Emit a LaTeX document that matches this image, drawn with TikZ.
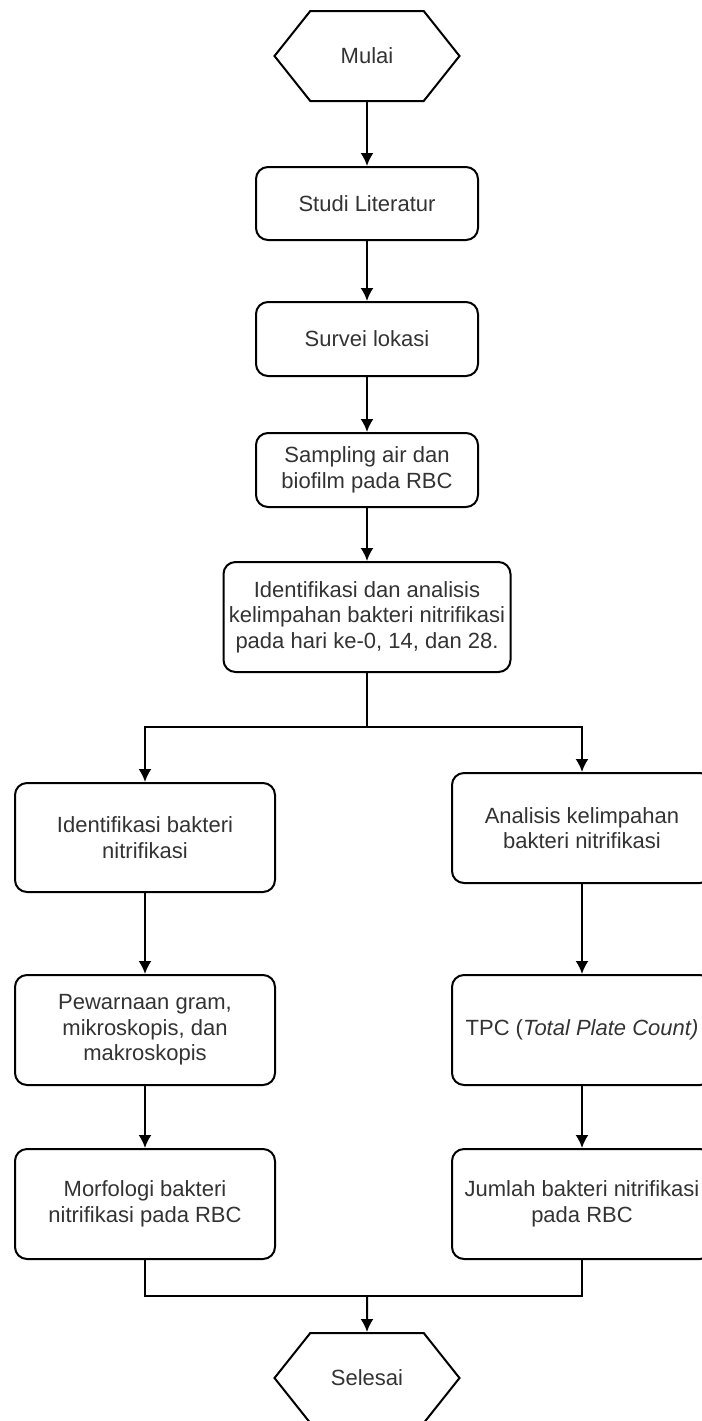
\documentclass[tikz,border=0pt]{standalone}
\usepackage{fontspec}
\setmainfont{Liberation Sans}
\usetikzlibrary{shapes.symbols, arrows.meta}

\begin{document}
\begin{tikzpicture}[x=0.5pt, y=-0.5pt, line width=1pt,
    box/.style={draw, rounded corners=6pt, align=center, inner sep=0pt,
        text=black!80, font=\fontsize{11}{12.8}\selectfont},
    term/.style={draw, signal, signal to=east and west, signal pointer angle=103,
        minimum width=92.5pt, minimum height=45pt, inner sep=0pt,
        text=black!80, font=\fontsize{11}{12.8}\selectfont},
    flow/.style={-{Latex[length=6.5pt, width=6.5pt]}}]
        \useasboundingbox (0,0) rectangle (702,1421);

        % Main line
        \node[term] (mulai) at (367,56) {Mulai};
        \node[box, minimum width=111pt, minimum height=36.5pt] (studi) at (367,203.5) {Studi Literatur};
        \node[box, minimum width=111pt, minimum height=37pt] (survei) at (367,339) {Survei lokasi};
        \node[box, minimum width=111pt, minimum height=37pt] (sampling) at (367,470)
            {Sampling air dan\\biofilm pada RBC};
        \node[box, minimum width=143.5pt, minimum height=55pt] (ident) at (367,617)
            {Identifikasi dan analisis\\kelimpahan bakteri nitrifikasi\\pada hari ke-0, 14, dan 28.};

        \draw[flow] (mulai) -- (studi);
        \draw[flow] (studi) -- (survei);
        \draw[flow] (survei) -- (sampling);
        \draw[flow] (sampling) -- (ident);

        % Left branch
        \node[box, minimum width=130pt, minimum height=54.5pt] (identbak) at (145,837.5)
            {Identifikasi bakteri\\nitrifikasi};
        \node[box, minimum width=130pt, minimum height=55pt] (pewarnaan) at (145,1030)
            {Pewarnaan gram,\\mikroskopis, dan\\makroskopis};
        \node[box, minimum width=130pt, minimum height=55pt] (morfologi) at (145,1204)
            {Morfologi bakteri\\nitrifikasi pada RBC};

        % Right branch
        \node[box, minimum width=130pt, minimum height=55pt] (analisis) at (582,828)
            {Analisis kelimpahan\\bakteri nitrifikasi};
        \node[box, minimum width=130pt, minimum height=55pt] (tpc) at (582,1030)
            {TPC (\textit{Total Plate Count)}};
        \node[box, minimum width=130pt, minimum height=55pt] (jumlah) at (582,1204)
            {Jumlah bakteri nitrifikasi\\pada RBC};

        % Split and merge
        \coordinate (split) at (367,727);
        \draw (ident) -- (split);
        \draw[flow] (split) -| (identbak.north);
        \draw[flow] (split) -| (analisis.north);

        \draw[flow] (identbak) -- (pewarnaan);
        \draw[flow] (pewarnaan) -- (morfologi);
        \draw[flow] (analisis) -- (tpc);
        \draw[flow] (tpc) -- (jumlah);

        \node[term] (selesai) at (367,1378) {Selesai};
        \coordinate (merge) at (367,1296);
        \draw (morfologi) |- (merge);
        \draw (jumlah) |- (merge);
        \draw[flow] (merge) -- (selesai);
    \end{tikzpicture}
\end{document}
